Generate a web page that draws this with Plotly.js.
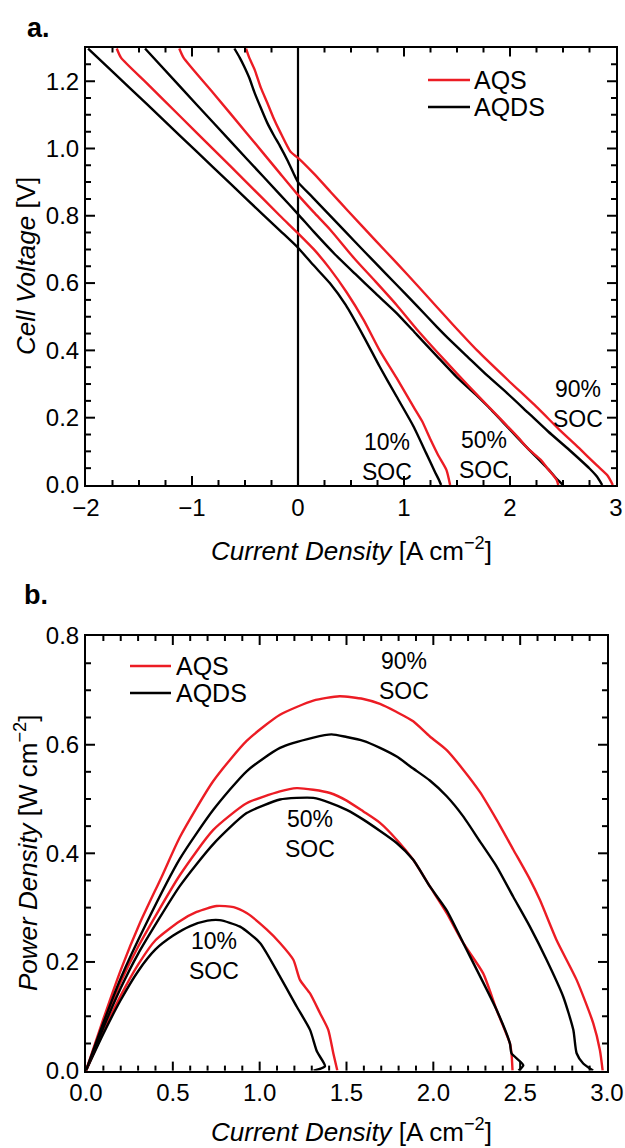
<!DOCTYPE html>
<html>
<head>
<meta charset="utf-8">
<script src="https://cdn.plot.ly/plotly-3.0.1.min.js"></script>
<style>html,body{margin:0;padding:0;background:#fff;}#chart{width:625px;height:1148px;}</style>
</head>
<body>
<div id="chart"></div>
<script>
// ---------- Panel a: polarization curves (current density [A cm-2], cell voltage [V]) ----------
const polI_AQS_10 = [-1.71,-1.67,-1.43,-1.11,-0.80,-0.48,-0.17,0,0.15,0.30,0.46,0.62,0.77,0.93,1.09,1.17,1.25,1.32,1.40,1.435];
const polV_AQS_10 = [1.297,1.27,1.195,1.095,0.998,0.898,0.80,0.748,0.70,0.643,0.572,0.49,0.40,0.318,0.232,0.19,0.135,0.09,0.045,0.0];
const polI_AQDS_10 = [-1.98,-1.74,-1.43,-1.11,-0.80,-0.48,-0.17,0,0.14,0.30,0.45,0.62,0.77,0.93,1.09,1.21,1.29,1.33,1.35];
const polV_AQDS_10 = [1.297,1.225,1.133,1.037,0.944,0.848,0.756,0.705,0.655,0.60,0.535,0.441,0.352,0.263,0.174,0.094,0.04,0.015,0.0];
const polI_AQS_50 = [-1.12,-1.08,-0.80,-0.48,-0.17,0,0.15,0.30,0.54,0.73,0.93,1.12,1.31,1.50,1.69,1.88,2.08,2.17,2.29,2.36,2.44,2.455];
const polV_AQS_50 = [1.297,1.27,1.165,1.044,0.926,0.862,0.81,0.76,0.67,0.605,0.535,0.463,0.396,0.331,0.268,0.206,0.14,0.108,0.075,0.047,0.015,0.0];
const polI_AQDS_50 = [-1.443,-1.11,-0.80,-0.48,-0.17,0,0.15,0.35,0.54,0.73,0.93,1.12,1.31,1.50,1.69,1.79,1.98,2.17,2.36,2.45,2.50];
const polV_AQDS_50 = [1.297,1.183,1.077,0.968,0.863,0.805,0.752,0.685,0.627,0.57,0.511,0.447,0.383,0.32,0.265,0.234,0.171,0.108,0.047,0.015,0.0];
const polI_AQS_90 = [-0.49,-0.46,-0.41,-0.35,-0.29,-0.23,-0.17,-0.07,0,0.15,0.31,0.47,0.73,0.93,1.12,1.31,1.46,1.69,1.98,2.27,2.46,2.65,2.82,2.92,2.97];
const polV_AQS_90 = [1.297,1.27,1.235,1.18,1.136,1.09,1.05,0.99,0.972,0.925,0.87,0.815,0.727,0.66,0.595,0.529,0.477,0.40,0.312,0.226,0.166,0.11,0.058,0.028,0.0];
const polI_AQDS_90 = [-0.60,-0.55,-0.51,-0.46,-0.41,-0.35,-0.29,-0.23,-0.17,-0.10,-0.04,0,0.14,0.35,0.54,0.73,0.93,1.12,1.31,1.41,1.60,1.79,1.98,2.17,2.36,2.56,2.75,2.82,2.87];
const polV_AQDS_90 = [1.297,1.27,1.245,1.21,1.166,1.12,1.076,1.04,1.007,0.965,0.925,0.90,0.854,0.785,0.722,0.66,0.595,0.533,0.47,0.438,0.381,0.324,0.271,0.215,0.159,0.104,0.049,0.025,0.0];

// ---------- Panel b: power density curves (current density [A cm-2], power density [W cm-2]) ----------
const pwI_AQS_10 = [0,0.10,0.20,0.30,0.40,0.54,0.637,0.752,0.85,0.925,1.04,1.117,1.194,1.232,1.29,1.347,1.395,1.424,1.447];
const pwP_AQS_10 = [0,0.072,0.138,0.195,0.24,0.275,0.292,0.303,0.301,0.29,0.26,0.235,0.204,0.167,0.142,0.106,0.075,0.032,0.0];
const pwI_AQDS_10 = [0,0.10,0.20,0.30,0.40,0.50,0.60,0.70,0.77,0.887,1.002,1.117,1.213,1.29,1.33,1.376,1.31];
const pwP_AQDS_10 = [0,0.068,0.13,0.183,0.223,0.248,0.266,0.276,0.277,0.265,0.235,0.173,0.118,0.075,0.035,0.008,0.0];
const pwI_AQS_50 = [0,0.10,0.20,0.30,0.541,0.733,0.925,1.117,1.213,1.309,1.405,1.501,1.597,1.693,1.789,1.884,1.98,2.077,2.172,2.287,2.364,2.441,2.45,2.456];
const pwP_AQS_50 = [0,0.084,0.163,0.228,0.36,0.443,0.492,0.514,0.52,0.517,0.511,0.497,0.477,0.456,0.425,0.388,0.339,0.29,0.235,0.179,0.112,0.05,0.032,0.0];
const pwI_AQDS_50 = [0,0.10,0.20,0.30,0.541,0.733,0.925,1.117,1.213,1.309,1.405,1.501,1.597,1.789,1.884,1.98,2.077,2.172,2.364,2.441,2.45,2.518,2.49];
const pwP_AQDS_50 = [0,0.079,0.152,0.215,0.34,0.417,0.474,0.499,0.502,0.502,0.493,0.48,0.462,0.419,0.388,0.339,0.295,0.235,0.112,0.05,0.032,0.01,0.0];
const pwI_AQS_90 = [0,0.10,0.20,0.311,0.436,0.541,0.733,0.925,1.117,1.309,1.46,1.597,1.693,1.789,1.884,1.98,2.077,2.172,2.268,2.364,2.46,2.556,2.614,2.71,2.825,2.921,2.959,2.975];
const pwP_AQS_90 = [0,0.095,0.185,0.272,0.357,0.43,0.533,0.607,0.655,0.681,0.689,0.684,0.675,0.66,0.643,0.615,0.59,0.554,0.513,0.462,0.407,0.352,0.314,0.24,0.167,0.087,0.038,0.0];
const pwI_AQDS_90 = [0,0.10,0.20,0.349,0.541,0.733,0.925,1.117,1.309,1.414,1.501,1.597,1.693,1.789,1.884,1.98,2.077,2.172,2.268,2.364,2.46,2.556,2.652,2.748,2.806,2.825,2.863,2.92];
const pwP_AQDS_90 = [0,0.088,0.17,0.272,0.39,0.48,0.551,0.594,0.613,0.619,0.614,0.607,0.594,0.578,0.556,0.534,0.505,0.468,0.422,0.376,0.32,0.265,0.204,0.136,0.075,0.032,0.013,0.0];

const seriesNames = ['AQS', 'AQDS'];
const socLabels = ['10%<br>SOC', '50%<br>SOC', '90%<br>SOC'];

const RED = '#ec1c24', BLACK = '#000000';
const FONT = 'Liberation Sans, Arial, Helvetica, sans-serif';

function tr(x, y, color, xa, ya) {
  return {x: x, y: y, type: 'scatter', mode: 'lines', xaxis: xa, yaxis: ya,
          line: {color: color, width: 2.4, shape: 'spline', smoothing: 0.6},
          showlegend: false, hoverinfo: 'skip'};
}

const data = [
  tr(polI_AQDS_10, polV_AQDS_10, BLACK, 'x', 'y'),
  tr(polI_AQS_10, polV_AQS_10, RED, 'x', 'y'),
  tr(polI_AQDS_50, polV_AQDS_50, BLACK, 'x', 'y'),
  tr(polI_AQS_50, polV_AQS_50, RED, 'x', 'y'),
  tr(polI_AQDS_90, polV_AQDS_90, BLACK, 'x', 'y'),
  tr(polI_AQS_90, polV_AQS_90, RED, 'x', 'y'),
  tr(pwI_AQS_10, pwP_AQS_10, RED, 'x2', 'y2'),
  tr(pwI_AQDS_10, pwP_AQDS_10, BLACK, 'x2', 'y2'),
  tr(pwI_AQS_50, pwP_AQS_50, RED, 'x2', 'y2'),
  tr(pwI_AQDS_50, pwP_AQDS_50, BLACK, 'x2', 'y2'),
  tr(pwI_AQS_90, pwP_AQS_90, RED, 'x2', 'y2'),
  tr(pwI_AQDS_90, pwP_AQDS_90, BLACK, 'x2', 'y2')
];

const H = 1148, W = 625;
const px = (v) => v / W, py = (v) => (H - v) / H;

// panel geometry (pixels) -> paper fractions
const A = {l: 86, r: 616, t: 47.5, b: 485};
const B = {l: 86, r: 607, t: 636, b: 1070.6};
const A_X = [px(A.l), px(A.r)], A_Y = [py(A.b), py(A.t)];
const B_X = [px(B.l), px(B.r)], B_Y = [py(B.b), py(B.t)];

function axis(extra) {
  return Object.assign({
    showline: true, linewidth: 2, linecolor: 'black', mirror: true,
    ticks: '', showgrid: false, zeroline: false, automargin: false,
    tickfont: {family: FONT, size: 24, color: 'black'}
  }, extra);
}

// inward tick marks on all four edges, built as shapes along each axis scale
function edgeTicks(xa, ya, xr, xMajor, xMinor, yr, yMajor, yMinor, geom) {
  const wpx = geom.r - geom.l, hpx = geom.b - geom.t;
  const out = [];
  const st = {color: 'black', width: 2};
  const isMajor = (v, d) => Math.abs(v / d - Math.round(v / d)) < 1e-6;
  const nx = Math.round((xr[1] - xr[0]) / xMinor);
  for (let i = 1; i < nx; i++) {
    const v = +(xr[0] + i * xMinor).toFixed(6);
    const len = (isMajor(v, xMajor) ? 9 : 5) / hpx;
    out.push({type: 'line', xref: xa, yref: ya + ' domain', x0: v, x1: v, y0: 0, y1: len, line: st});
    out.push({type: 'line', xref: xa, yref: ya + ' domain', x0: v, x1: v, y0: 1, y1: 1 - len, line: st});
  }
  const ny = Math.round((yr[1] - yr[0]) / yMinor);
  for (let i = 1; i < ny; i++) {
    const v = +(yr[0] + i * yMinor).toFixed(6);
    const len = (isMajor(v, yMajor) ? 9 : 5) / wpx;
    out.push({type: 'line', xref: xa + ' domain', yref: ya, x0: 0, x1: len, y0: v, y1: v, line: st});
    out.push({type: 'line', xref: xa + ' domain', yref: ya, x0: 1, x1: 1 - len, y0: v, y1: v, line: st});
  }
  return out;
}

const txt = (t, x, y, size, extra) => Object.assign({
  text: t, x: x, y: y, xref: 'paper', yref: 'paper', showarrow: false,
  font: {family: FONT, size: size, color: 'black'}, xanchor: 'center', yanchor: 'middle'
}, extra || {});

const socFont = {family: FONT, size: 23, color: 'black'};
const annotations = [
  txt('<b>a.</b>', px(38), py(28), 27),
  txt('<b>b.</b>', px(36), py(595), 27),
  txt('<i>Current Density</i> [A cm<sup>−2</sup>]', px(351), py(550), 26),
  txt('<i>Current Density</i> [A cm<sup>−2</sup>]', px(351), py(1130), 26),
  txt('<i>Cell Voltage</i> [V]', px(26), py(266), 26, {textangle: -90}),
  txt('<i>Power Density</i> [W cm<sup>−2</sup>]', px(26), py(853), 26, {textangle: -90}),
  txt(seriesNames[0], px(472), py(80), 25, {xanchor: 'left'}),
  txt(seriesNames[1], px(472), py(107), 25, {xanchor: 'left'}),
  txt(seriesNames[0], px(174), py(666), 25, {xanchor: 'left'}),
  txt(seriesNames[1], px(174), py(693), 25, {xanchor: 'left'}),
  {text: socLabels[0], x: 0.84, y: 0.083, xref: 'x', yref: 'y', showarrow: false, font: socFont},
  {text: socLabels[1], x: 1.755, y: 0.089, xref: 'x', yref: 'y', showarrow: false, font: socFont},
  {text: socLabels[2], x: 2.64, y: 0.241, xref: 'x', yref: 'y', showarrow: false, font: socFont},
  {text: socLabels[0], x: 0.737, y: 0.211, xref: 'x2', yref: 'y2', showarrow: false, font: socFont},
  {text: socLabels[1], x: 1.29, y: 0.436, xref: 'x2', yref: 'y2', showarrow: false, font: socFont},
  {text: socLabels[2], x: 1.83, y: 0.727, xref: 'x2', yref: 'y2', showarrow: false, font: socFont}
];

const shapes = [
  {type: 'line', xref: 'x', yref: 'y', x0: 0, x1: 0, y0: 0, y1: 1.3, layer: 'below', line: {color: 'black', width: 2.2}},
  {type: 'line', xref: 'paper', yref: 'paper', x0: px(428), x1: px(470), y0: py(80), y1: py(80), line: {color: RED, width: 2.4}},
  {type: 'line', xref: 'paper', yref: 'paper', x0: px(428), x1: px(470), y0: py(107), y1: py(107), line: {color: BLACK, width: 2.4}},
  {type: 'line', xref: 'paper', yref: 'paper', x0: px(130), x1: px(171), y0: py(666), y1: py(666), line: {color: RED, width: 2.4}},
  {type: 'line', xref: 'paper', yref: 'paper', x0: px(130), x1: px(171), y0: py(693), y1: py(693), line: {color: BLACK, width: 2.4}}
].concat(
  edgeTicks('x', 'y', [-2, 3], 1, 0.25, [0, 1.3], 0.2, 0.05, A),
  edgeTicks('x2', 'y2', [0, 3], 0.5, 0.1, [0, 0.8], 0.2, 0.05, B)
);

const layout = {
  width: W, height: H,
  margin: {l: 0, r: 0, t: 0, b: 0},
  paper_bgcolor: 'white', plot_bgcolor: 'white',
  showlegend: false,
  xaxis: axis({domain: A_X, range: [-2, 3], dtick: 1, anchor: 'y'}),
  yaxis: axis({domain: A_Y, range: [0, 1.3], dtick: 0.2, tickformat: '.1f', anchor: 'x'}),
  xaxis2: axis({domain: B_X, range: [0, 3], dtick: 0.5, tickformat: '.1f', anchor: 'y2'}),
  yaxis2: axis({domain: B_Y, range: [0, 0.8], dtick: 0.2, tickformat: '.1f', anchor: 'x2'}),
  annotations: annotations,
  shapes: shapes
};

Plotly.newPlot('chart', data, layout, {staticPlot: true, displayModeBar: false});
</script>
</body>
</html>
